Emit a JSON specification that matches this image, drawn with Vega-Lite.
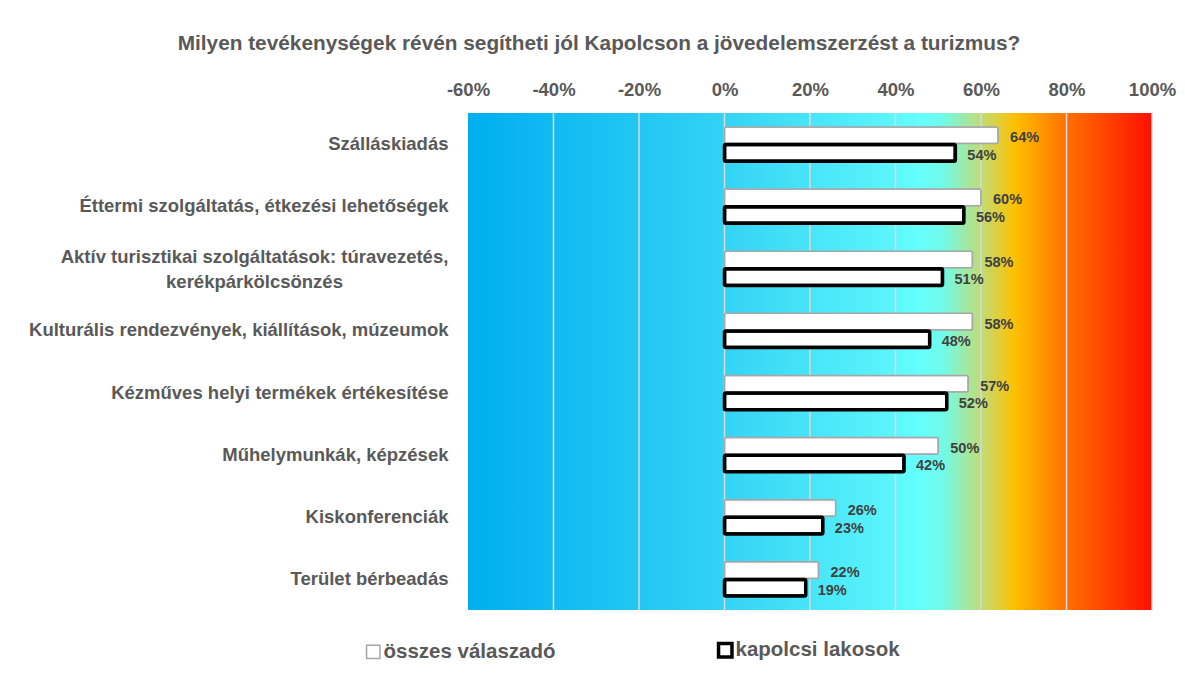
{
  "$schema": "https://vega.github.io/schema/vega-lite/v6.json",
  "width": 684,
  "height": 497,
  "autosize": "none",
  "padding": {"left": 468, "top": 113, "right": 33, "bottom": 78},
  "background": "white",
  "title": {
    "text": "Milyen tevékenységek révén segítheti jól Kapolcson a jövedelemszerzést a turizmus?",
    "font": "Liberation Sans",
    "fontSize": 20.8,
    "fontWeight": "bold",
    "color": "#595959",
    "anchor": "middle",
    "dx": -211,
    "offset": 25
  },
  "config": {"view": {"stroke": null}, "font": "Liberation Sans"},
  "datasets": {
    "bg": [{"start": -0.6, "end": 1.0}],
    "grid": [{"g": -0.4}, {"g": -0.2}, {"g": 0}, {"g": 0.2}, {"g": 0.4}, {"g": 0.6}, {"g": 0.8}, {"g": 1.0}],
    "vals": [
      {"cat": "Szálláskiadás", "series": "összes válaszadó", "v": 0.64},
      {"cat": "Szálláskiadás", "series": "kapolcsi lakosok", "v": 0.54},
      {"cat": "Éttermi szolgáltatás, étkezési lehetőségek", "series": "összes válaszadó", "v": 0.60},
      {"cat": "Éttermi szolgáltatás, étkezési lehetőségek", "series": "kapolcsi lakosok", "v": 0.56},
      {"cat": "Aktív turisztikai szolgáltatások: túravezetés,\nkerékpárkölcsönzés", "series": "összes válaszadó", "v": 0.58},
      {"cat": "Aktív turisztikai szolgáltatások: túravezetés,\nkerékpárkölcsönzés", "series": "kapolcsi lakosok", "v": 0.51},
      {"cat": "Kulturális rendezvények, kiállítások, múzeumok", "series": "összes válaszadó", "v": 0.58},
      {"cat": "Kulturális rendezvények, kiállítások, múzeumok", "series": "kapolcsi lakosok", "v": 0.48},
      {"cat": "Kézműves helyi termékek értékesítése", "series": "összes válaszadó", "v": 0.57},
      {"cat": "Kézműves helyi termékek értékesítése", "series": "kapolcsi lakosok", "v": 0.52},
      {"cat": "Műhelymunkák, képzések", "series": "összes válaszadó", "v": 0.50},
      {"cat": "Műhelymunkák, képzések", "series": "kapolcsi lakosok", "v": 0.42},
      {"cat": "Kiskonferenciák", "series": "összes válaszadó", "v": 0.26},
      {"cat": "Kiskonferenciák", "series": "kapolcsi lakosok", "v": 0.23},
      {"cat": "Terület bérbeadás", "series": "összes válaszadó", "v": 0.22},
      {"cat": "Terület bérbeadás", "series": "kapolcsi lakosok", "v": 0.19}
    ]
  },
  "layer": [
    {
      "data": {"name": "bg"},
      "mark": {
        "type": "rect",
        "color": {
          "gradient": "linear",
          "x1": 0, "x2": 1, "y1": 0, "y2": 0,
          "stops": [
            {"offset": 0, "color": "#00aeef"},
            {"offset": 0.375, "color": "#33d3f5"},
            {"offset": 0.62, "color": "#5cf5fc"},
            {"offset": 0.66, "color": "#66ffff"},
            {"offset": 0.695, "color": "#70fbe8"},
            {"offset": 0.75, "color": "#c0dc78"},
            {"offset": 0.8, "color": "#ffc000"},
            {"offset": 0.875, "color": "#ff7000"},
            {"offset": 1, "color": "#ff1000"}
          ]
        }
      },
      "encoding": {
        "x": {
          "field": "start",
          "type": "quantitative",
          "scale": {"domain": [-0.6, 1.0], "nice": false, "zero": false},
          "axis": {
            "orient": "top",
            "title": null,
            "values": [-0.6, -0.4, -0.2, 0, 0.2, 0.4, 0.6, 0.8, 1.0],
            "format": ".0%",
            "labelExpr": "replace(datum.label, '\u2212', '-')",
            "domain": false,
            "ticks": false,
            "grid": false,
            "labelPadding": 14,
            "labelFontSize": 18.5,
            "labelFontWeight": "bold",
            "labelColor": "#595959",
            "labelFlush": false
          }
        },
        "x2": {"field": "end"}
      }
    },
    {
      "data": {"name": "grid"},
      "mark": {"type": "rule", "color": "#d9d9d9", "strokeWidth": 1.5},
      "encoding": {"x": {"field": "g", "type": "quantitative"}}
    },
    {
      "data": {"name": "vals"},
      "mark": {"type": "bar", "fill": "white", "cornerRadius": 1.5},
      "encoding": {
        "x": {"field": "v", "type": "quantitative"},
        "y": {
          "field": "cat",
          "type": "nominal",
          "sort": null,
          "scale": {"paddingInner": 0.45, "paddingOuter": 0.225},
          "axis": {
            "title": null,
            "domain": false,
            "ticks": false,
            "labelExpr": "split(datum.label, '\\n')",
            "labelAlign": {"condition": {"test": "indexof(datum.value, 'Aktív') == 0", "value": "center"}, "value": "right"},
            "labelPadding": {"condition": {"test": "indexof(datum.value, 'Aktív') == 0", "value": 214}, "value": 20},
            "labelOffset": {"condition": {"test": "indexof(datum.value, 'Aktív') == 0", "value": -11}, "value": 0},
            "labelFontSize": 18.5,
            "labelFontWeight": "bold",
            "labelColor": "#595959",
            "labelLineHeight": 25,
            "labelLimit": 600
          }
        },
        "yOffset": {
          "field": "series",
          "type": "nominal",
          "sort": ["összes válaszadó", "kapolcsi lakosok"],
          "scale": {"paddingInner": 0.05}
        },
        "stroke": {
          "field": "series",
          "type": "nominal",
          "sort": ["összes válaszadó", "kapolcsi lakosok"],
          "scale": {"domain": ["összes válaszadó", "kapolcsi lakosok"], "range": ["#a6a6a6", "#000000"]},
          "legend": {
            "orient": "none",
            "legendX": -105,
            "legendY": 527,
            "direction": "horizontal",
            "columns": 2,
            "columnPadding": 155,
            "title": null,
            "labelFontSize": 20.5,
            "labelFontWeight": "bold",
            "labelColor": "#595959",
            "labelOffset": 0,
            "labelLimit": 400,
            "symbolType": "square",
            "symbolSize": 180,
            "symbolFillColor": "white"
          }
        },
        "strokeWidth": {
          "field": "series",
          "type": "nominal",
          "sort": ["összes válaszadó", "kapolcsi lakosok"],
          "scale": {"domain": ["összes válaszadó", "kapolcsi lakosok"], "range": [1.5, 3.5]}
        }
      }
    },
    {
      "data": {"name": "vals"},
      "mark": {"type": "text", "align": "left", "baseline": "middle", "dx": 12, "dy": 3, "fontSize": 14.5, "fontWeight": "bold", "color": "#404040"},
      "encoding": {
        "x": {"field": "v", "type": "quantitative"},
        "y": {"field": "cat", "type": "nominal", "sort": null},
        "yOffset": {"field": "series", "type": "nominal", "sort": ["összes válaszadó", "kapolcsi lakosok"]},
        "text": {"field": "v", "type": "quantitative", "format": ".0%"}
      }
    }
  ]
}
